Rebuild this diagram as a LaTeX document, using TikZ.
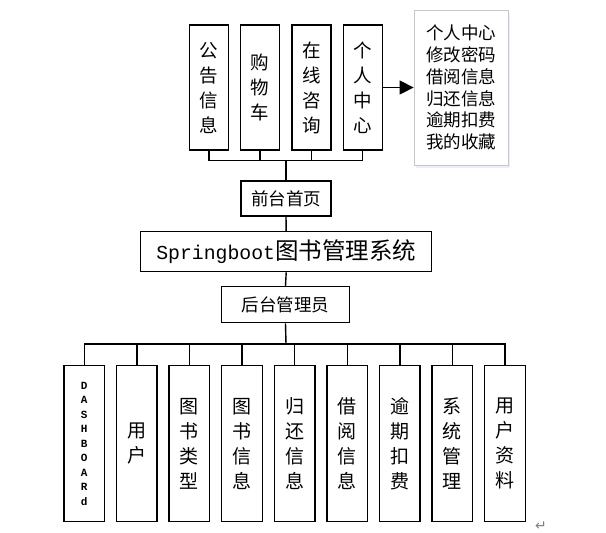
\documentclass[tikz,border=0pt]{standalone}
\usepackage{fontspec}
\setmainfont{Noto Sans CJK SC}
\newfontfamily\monofont{Liberation Mono}
\newfontfamily\symfont{DejaVu Sans}
\usepackage{tikz}
\usetikzlibrary{arrows.meta,shadows}

\begin{document}
\begin{tikzpicture}[x=1pt,y=-1pt,
  box/.style={draw,line width=1.4pt,inner sep=0pt,align=center},
  colbox/.style={box,minimum width=39pt,minimum height=125pt,font=\fontsize{18.5}{25}\selectfont},
  modbox/.style={box,minimum width=40.5pt,minimum height=156pt,font=\fontsize{19}{25}\selectfont},
  link/.style={line width=1.4pt}]
 \useasboundingbox (0,0) rectangle (606,533);

 \coordinate (topbus) at (286,160.7);
 \coordinate (botbus) at (286,344);

\node[colbox] (ggxx) at (208.8,87.5) {公\\告\\信\\息};
\node[colbox] (gwc) at (260,87.5) {购\\物\\车};
\node[colbox] (zxzx) at (311.5,87.5) {在\\线\\咨\\询};
\node[colbox] (grzx) at (362.7,87.5) {个\\人\\中\\心};

\node[draw=black!22,line width=0.9pt,minimum width=94.3pt,minimum height=155pt,
  inner sep=0pt,align=left,fill=white,
  drop shadow={opacity=0.18,fill=blue!40,shadow xshift=1.5pt,shadow yshift=-2.5pt},
  font=\fontsize{17.5}{21.8}\selectfont] (grinfo) at (461.2,87.5)
  {个人中心\\修改密码\\借阅信息\\归还信息\\逾期扣费\\我的收藏};

\node[box,minimum width=90pt,minimum height=35pt,font=\fontsize{17.5}{20}\selectfont] (qtsy) at (286,198.5) {前台首页};
\node[box,minimum width=291pt,minimum height=40pt] (sys) at (286.2,251.7)
  {{\monofont\fontsize{19.8}{24}\selectfont Springboot}{\fontsize{23.5}{26}\selectfont 图书管理系统}};
\node[box,minimum width=127.6pt,minimum height=36pt,font=\fontsize{17.5}{20}\selectfont] (htgl) at (285.5,304.7) {后台管理员};

\node[modbox,font=\monofont\bfseries\fontsize{11}{14.5}\selectfont] (dash) at (84.2,443.7) {D\\A\\S\\H\\B\\O\\A\\R\\d};
\node[modbox] (yh) at (136.8,443.7) {用\\户};
\node[modbox] (tslx) at (189.4,443.7) {图\\书\\类\\型};
\node[modbox] (tsxx) at (242,443.7) {图\\书\\信\\息};
\node[modbox] (ghxx) at (294.6,443.7) {归\\还\\信\\息};
\node[modbox] (jyxx) at (347.2,443.7) {借\\阅\\信\\息};
\node[modbox] (yqkf) at (399.8,443.7) {逾\\期\\扣\\费};
\node[modbox] (xtgl) at (452.4,443.7) {系\\统\\管\\理};
\node[modbox] (yhzl) at (505,443.7) {用\\户\\资\\料};

\draw[link] (ggxx.south) -- (ggxx.south |- topbus) -- (grzx.south |- topbus) -- (grzx.south);
\draw[link] (gwc.south) -- (gwc.south |- topbus);
\draw[link] (zxzx.south) -- (zxzx.south |- topbus);
\draw[link] (topbus) -- (qtsy.north);
\draw[link] (qtsy.south) -- (sys.north);
\draw[link] (sys.south) -- (htgl.north);
\draw[link,-{Triangle[length=14pt,width=14pt]}] (grzx.east) -- (grinfo.west |- grzx.east);

\draw[link] (htgl.south) -- (botbus);
\draw[link] (dash.north) -- (dash.north |- botbus) -- (yhzl.north |- botbus) -- (yhzl.north);
\draw[link] (yh.north) -- (yh.north |- botbus);
\draw[link] (tslx.north) -- (tslx.north |- botbus);
\draw[link] (tsxx.north) -- (tsxx.north |- botbus);
\draw[link] (ghxx.north) -- (ghxx.north |- botbus);
\draw[link] (jyxx.north) -- (jyxx.north |- botbus);
\draw[link] (yqkf.north) -- (yqkf.north |- botbus);
\draw[link] (xtgl.north) -- (xtgl.north |- botbus);

\node[text=black!50,font=\symfont\fontsize{14}{14}\selectfont] (mark) at (541,526) {↵};

\end{tikzpicture}
\end{document}
